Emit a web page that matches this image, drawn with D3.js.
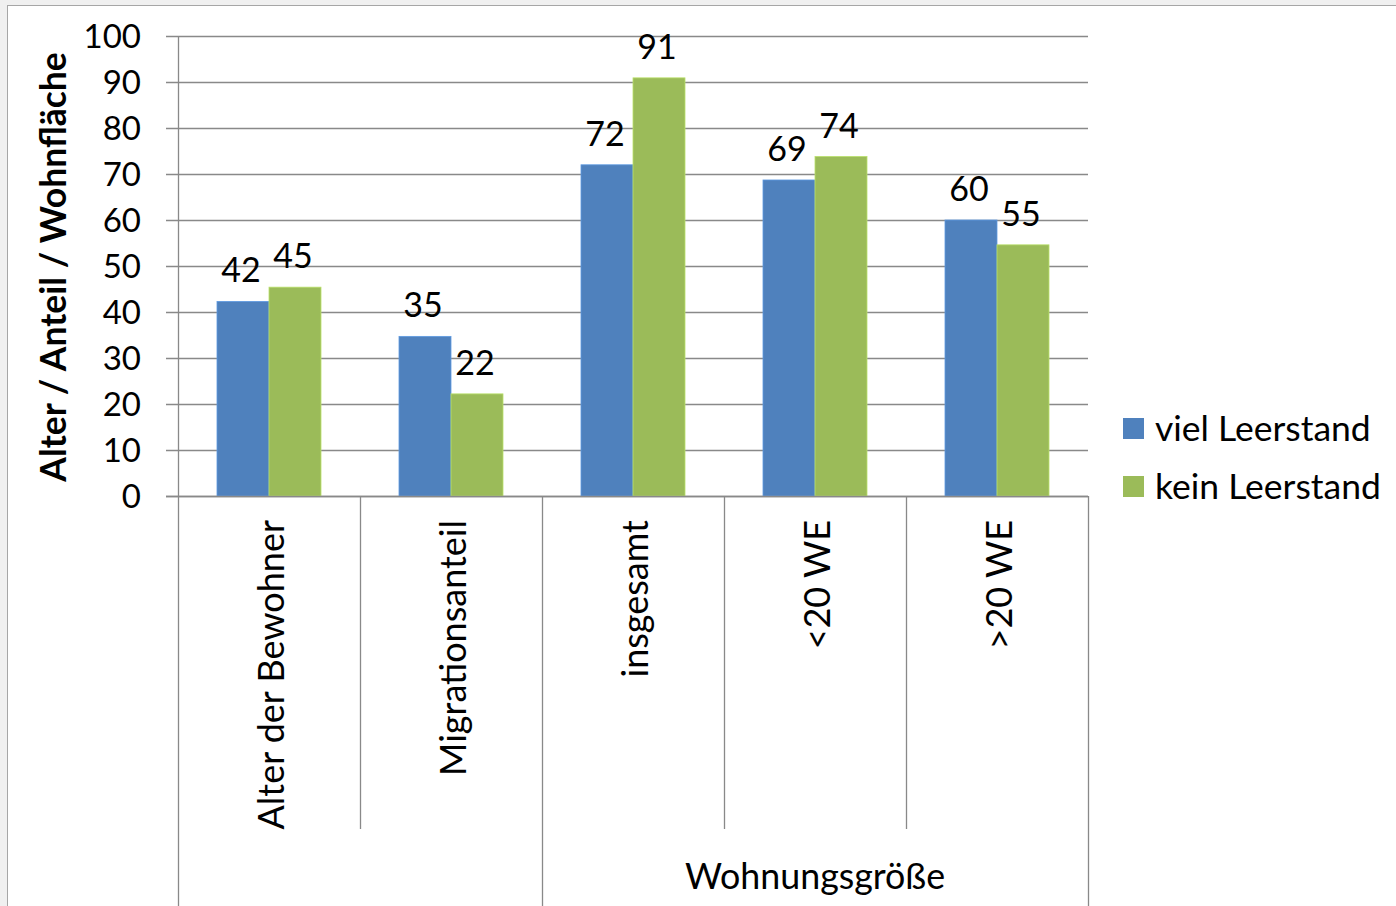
<!DOCTYPE html>
<html>
<head>
<meta charset="utf-8">
<script src="https://cdn.jsdelivr.net/npm/d3@7"></script>
<style>
  html, body { margin: 0; padding: 0; background: #f0f0f0; }
  svg { display: block; }
  text { font-family: Lato, "Open Sans", sans-serif; fill: #000; }
</style>
</head>
<body>
<svg id="chart" width="1396" height="906"></svg>
<script>
// ---- data ----
const categories = ["Alter der Bewohner", "Migrationsanteil", "insgesamt", "<20 WE", ">20 WE"];
const groupLabels = ["", "Wohnungsgröße"];
const groupSpans = [2, 3];
const seriesNames = ["viel Leerstand", "kein Leerstand"];
const vielLeerstand = [42.3, 34.7, 72.0, 68.7, 60.0];
const keinLeerstand = [45.4, 22.2, 90.9, 73.8, 54.6];
const yTicks = [0, 10, 20, 30, 40, 50, 60, 70, 80, 90, 100];
const yTitle = "Alter / Anteil / Wohnfläche";
const colors = ["#4F81BD", "#9BBB59"];

const svg = d3.select("#chart");

// chart area background with border
svg.append("rect").attr("x", 7.5).attr("y", 5.5).attr("width", 1400).attr("height", 910)
  .attr("fill", "#fff").attr("stroke", "#a6a6a6").attr("stroke-width", 1);

const plot = { left: 178, right: 1088, top: 36, bottom: 496 };

const x0 = d3.scaleBand().domain(categories).range([plot.left, plot.right]).paddingInner(0).paddingOuter(0);
const x1 = d3.scaleBand().domain(seriesNames).range([0, x0.bandwidth()]).paddingInner(0).paddingOuter(0.75);
const y = d3.scaleLinear().domain([0, 100]).range([plot.bottom, plot.top]);

// gridlines
svg.append("g").selectAll("line").data(yTicks).join("line")
  .attr("x1", plot.left - 12).attr("x2", plot.right)
  .attr("y1", d => Math.round(y(d)) + 0.5).attr("y2", d => Math.round(y(d)) + 0.5)
  .attr("stroke", "#898989").attr("stroke-width", 1.3);

// y tick labels
svg.append("g").selectAll("text").data(yTicks).join("text")
  .attr("x", 141).attr("y", d => y(d)).attr("dy", "0.36em")
  .attr("text-anchor", "end").style("font-size", "33px").text(d => d);

// y axis title
svg.append("text")
  .attr("transform", `translate(66, ${267}) rotate(-90)`)
  .attr("text-anchor", "middle").style("font-size", "35.5px").style("font-weight", "bold")
  .text(yTitle);

// bars
const seriesData = [vielLeerstand, keinLeerstand];
seriesNames.forEach((s, si) => {
  const vals = seriesData[si];
  svg.append("g").selectAll("rect").data(categories).join("rect")
    .attr("x", c => x0(c) + x1(s))
    .attr("y", (c, i) => y(vals[i]))
    .attr("width", x1.bandwidth())
    .attr("height", (c, i) => y(0) - y(vals[i]))
    .attr("fill", colors[si])
    .attr("stroke", d3.color(colors[si]).brighter(0.5)).attr("stroke-width", 0.8);
  svg.append("g").selectAll("text").data(categories).join("text")
    .attr("x", c => x0(c) + x1(s) + x1.bandwidth() / 2 - 2)
    .attr("y", (c, i) => y(vals[i]) - 19)
    .attr("text-anchor", "middle").style("font-size", "34px")
    .text((c, i) => d3.format(".0f")(vals[i]));
});

// axis baseline
svg.append("line").attr("x1", plot.left - 12).attr("x2", plot.right)
  .attr("y1", plot.bottom + 0.5).attr("y2", plot.bottom + 0.5)
  .attr("stroke", "#898989").attr("stroke-width", 1.3);
// y axis line
svg.append("line").attr("x1", plot.left + 0.5).attr("x2", plot.left + 0.5)
  .attr("y1", plot.top).attr("y2", 906)
  .attr("stroke", "#898989").attr("stroke-width", 1.3);

// category separators (multi-level axis)
const bounds = [];
let idx = 0;
const groupStarts = new Set([0]);
groupSpans.forEach(sp => { idx += sp; groupStarts.add(idx); });
for (let i = 0; i <= categories.length; i++) {
  const xx = i < categories.length ? x0(categories[i]) : plot.right;
  bounds.push({ x: xx, full: groupStarts.has(i) });
}
svg.append("g").selectAll("line").data(bounds.filter(b => b.x !== plot.left)).join("line")
  .attr("x1", b => Math.round(b.x) + 0.5).attr("x2", b => Math.round(b.x) + 0.5)
  .attr("y1", plot.bottom).attr("y2", b => b.full ? 906 : 829)
  .attr("stroke", "#898989").attr("stroke-width", 1.3);

// category labels
svg.append("g").selectAll("text").data(categories).join("text")
  .attr("transform", c => `translate(${x0(c) + x0.bandwidth() / 2 + 2}, 520) rotate(-90)`)
  .attr("dy", "0.36em").attr("text-anchor", "end").style("font-size", "36px")
  .text(c => c);

// group labels
let start = 0;
groupLabels.forEach((g, gi) => {
  const sp = groupSpans[gi];
  const xa = x0(categories[start]);
  const xb = x0(categories[start + sp - 1]) + x0.bandwidth();
  if (g) {
    svg.append("text").attr("x", (xa + xb) / 2).attr("y", 889)
      .attr("text-anchor", "middle").style("font-size", "35.8px").text(g);
  }
  start += sp;
});

// legend
const legend = svg.append("g");
seriesNames.forEach((s, i) => {
  const ly = 428 + i * 58;
  legend.append("rect").attr("x", 1123).attr("y", ly - 10).attr("width", 21).attr("height", 21)
    .attr("fill", colors[i]);
  legend.append("text").attr("x", 1155).attr("y", ly).attr("dy", "0.36em")
    .style("font-size", "35.5px").text(s);
});
</script>
</body>
</html>
